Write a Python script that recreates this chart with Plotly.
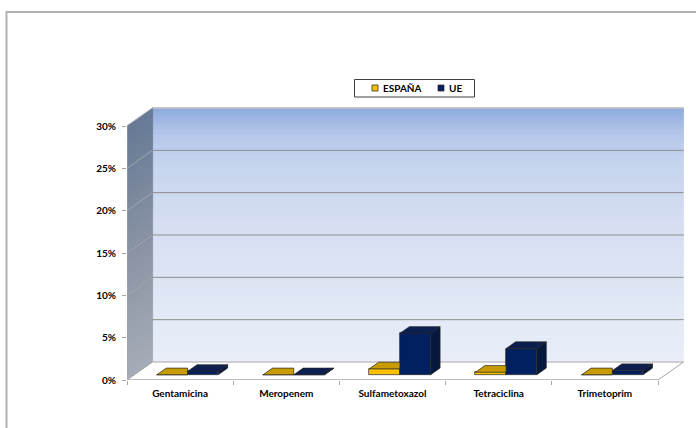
import plotly.graph_objects as go

# ---------------- data ----------------
categories = ["Gentamicina", "Meropenem", "Sulfametoxazol", "Tetraciclina", "Trimetoprim"]
espana = [0.0, 0.0, 0.7, 0.3, 0.0]
ue = [0.4, 0.0, 4.9, 3.1, 0.5]
y_ticks = [0, 5, 10, 15, 20, 25, 30]
y_tick_labels = ["0%", "5%", "10%", "15%", "20%", "25%", "30%"]
series_names = ["ESPAÑA", "UE"]

# ---------------- geometry (pixels -> data units) ----------------
W, H = 696, 428
L, R, T, B = 127, 684, 107, 380
CW = 106.2            # px per category
YP = 254.0 / 30.0     # px per percent
XMIN = -0.5
XMAX = XMIN + (R - L) / CW
YMAX = (B - T) / YP
DX = 25.6 / CW        # wall depth, x
DY = 18.0 / YP        # wall depth, y
F0 = 0.29             # bar front depth fraction
FD = 0.37             # bar depth fraction
BW = 0.289            # bar width (category units)
n = len(categories)
xpos = list(range(n))
x_lo, x_hi = -0.5, n - 0.5

FONT = "Lato"

def lerp_color(c1, c2, t):
    a = [int(c1[i:i + 2], 16) for i in (1, 3, 5)]
    b = [int(c2[i:i + 2], 16) for i in (1, 3, 5)]
    return "rgb(%d,%d,%d)" % tuple(round(a[i] + (b[i] - a[i]) * t) for i in range(3))

def scale_color(stops, t):
    for (p0, c0), (p1, c1) in zip(stops, stops[1:]):
        if t <= p1:
            return lerp_color(c0, c1, (t - p0) / (p1 - p0) if p1 > p0 else 0)
    return lerp_color(stops[-1][1], stops[-1][1], 0)

def px2paper_x(px):
    return (px - L) / (R - L)

def px2paper_y(py):
    return (B - py) / (B - T)

shapes = []
annotations = []
# outer frame
shapes.append(dict(type="rect", xref="paper", yref="paper",
                   x0=px2paper_x(6.5), x1=px2paper_x(705), y0=px2paper_y(12), y1=px2paper_y(440),
                   line=dict(color="#b3b3b3", width=2), fillcolor="rgba(0,0,0,0)", layer="below"))

# back wall gradient bands
back_stops = [(0.0, "#e9eef8"), (0.55, "#d5def2"), (0.8, "#c5d3ee"), (0.9, "#b4c6ea"), (1.0, "#8eaadc")]
NB = 70
top = y_ticks[-1]
for i in range(NB):
    v0 = top * i / NB
    v1 = top * (i + 1) / NB
    col = scale_color(back_stops, (i + 0.5) / NB)
    shapes.append(dict(type="rect", xref="x", yref="y", x0=x_lo + DX, x1=x_hi + DX,
                       y0=v0 + DY, y1=v1 + DY, line=dict(width=0.8, color=col), fillcolor=col, layer="below"))
# side wall gradient bands
side_stops = [(0.0, "#a5acb7"), (0.5, "#8892a3"), (1.0, "#657894")]
for i in range(NB):
    v0 = top * i / NB
    v1 = top * (i + 1) / NB
    col = scale_color(side_stops, (i + 0.5) / NB)
    path = "M %f,%f L %f,%f L %f,%f L %f,%f Z" % (x_lo, v0, x_lo + DX, v0 + DY, x_lo + DX, v1 + DY, x_lo, v1)
    shapes.append(dict(type="path", xref="x", yref="y", path=path, line=dict(width=0.8, color=col),
                       fillcolor=col, layer="below"))
# floor
floor = "M %f,0 L %f,0 L %f,%f L %f,%f Z" % (x_lo, x_hi, x_hi + DX, DY, x_lo + DX, DY)
shapes.append(dict(type="path", xref="x", yref="y", path=floor, fillcolor="white",
                   line=dict(color="#a6a6a6", width=1), layer="below"))
# gridlines (side wall diagonal + back wall)
for v in y_ticks[1:]:
    shapes.append(dict(type="line", xref="x", yref="y", x0=x_lo, y0=v, x1=x_lo + DX, y1=v + DY,
                       line=dict(color="#9ea4ae", width=1), layer="below"))
    shapes.append(dict(type="line", xref="x", yref="y", x0=x_lo + DX, y0=v + DY, x1=x_hi + DX, y1=v + DY,
                       line=dict(color="#8c8c8c", width=1), layer="below"))
shapes.append(dict(type="line", xref="x", yref="y", x0=x_lo + DX, y0=top + DY, x1=x_hi + DX, y1=top + DY,
                   line=dict(color="#d9d9d9", width=1), layer="below"))
# front axis lines
shapes.append(dict(type="line", xref="x", yref="y", x0=x_lo, y0=0, x1=x_lo, y1=top,
                   line=dict(color="#a6a6a6", width=1), layer="below"))
shapes.append(dict(type="line", xref="x", yref="y", x0=x_lo, y0=0, x1=x_hi, y1=0,
                   line=dict(color="#a6a6a6", width=1), layer="below"))

fig = go.Figure()

front_cols = ["#ffc000", "#002060"]
top_cols = ["#c89b00", "#0d1f4f"]
side_cols = ["#a57f00", "#07183e"]
edge = "#262626"

base = F0 * DY
ddx, ddy = FD * DX, FD * DY
series = [espana, ue]
lefts = []
for s, vals in enumerate(series):
    xs = [c + (s - 0.5) * BW + F0 * DX for c in xpos]
    lefts.append([x - BW / 2 for x in xs])
    fig.add_trace(go.Bar(x=xs, y=vals, base=[base] * n, width=BW, name=series_names[s],
                         marker=dict(color=front_cols[s], line=dict(color=edge, width=0.7)),
                         showlegend=False, hoverinfo="skip"))

# top + side faces
for s, vals in enumerate(series):
    tx, ty, sx, sy = [], [], [], []
    for i, v in enumerate(vals):
        xl = lefts[s][i]
        xr = xl + BW
        t = base + v
        nxt = series[s + 1][i] if s + 1 < len(series) else None
        if nxt is not None and nxt >= v:
            tx += [xl, xr, xr, xl + ddx, xl, None]
            ty += [t, t, t + ddy, t + ddy, t, None]
        else:
            tx += [xl, xr, xr + ddx, xl + ddx, xl, None]
            ty += [t, t, t + ddy, t + ddy, t, None]
            sx += [xr, xr + ddx, xr + ddx, xr, xr, None]
            sy += [base, base + ddy, t + ddy, t, base, None]
    fig.add_trace(go.Scatter(x=tx, y=ty, mode="lines", fill="toself", fillcolor=top_cols[s],
                             line=dict(color=edge, width=0.7), showlegend=False, hoverinfo="skip"))
    if sx:
        fig.add_trace(go.Scatter(x=sx, y=sy, mode="lines", fill="toself", fillcolor=side_cols[s],
                                 line=dict(color=edge, width=0.7), showlegend=False, hoverinfo="skip"))

# legend (box, swatches, labels)
shapes.append(dict(type="rect", xref="paper", yref="paper",
                   x0=px2paper_x(354.5), x1=px2paper_x(474.5), y0=px2paper_y(97), y1=px2paper_y(79.5),
                   line=dict(color="#404040", width=1), fillcolor="white", layer="above"))
leg_swatch_x = [372, 438]
leg_text_x = [381, 447]
for s in range(2):
    shapes.append(dict(type="rect", xref="paper", yref="paper",
                       x0=px2paper_x(leg_swatch_x[s]), x1=px2paper_x(leg_swatch_x[s] + 6),
                       y0=px2paper_y(91), y1=px2paper_y(85),
                       line=dict(color="#333333", width=0.8), fillcolor=front_cols[s], layer="above"))
    annotations.append(dict(xref="paper", yref="paper", x=px2paper_x(leg_text_x[s]), y=px2paper_y(88.3),
                            xanchor="left", yanchor="middle", showarrow=False, text=series_names[s],
                            font=dict(family=FONT, size=10, weight="bold", color="#000000")))

fig.update_layout(
    width=W, height=H,
    margin=dict(l=L, r=W - R, t=T, b=H - B, pad=0),
    paper_bgcolor="white", plot_bgcolor="rgba(0,0,0,0)",
    font=dict(family=FONT, size=10, color="#000000", weight="bold"),
    shapes=shapes, annotations=annotations,
    showlegend=False,
    bargap=0, barmode="overlay",
    xaxis=dict(range=[XMIN, XMAX], showgrid=False, zeroline=False, showline=False,
               tickmode="array", tickvals=xpos, ticktext=categories, ticks="",
               ticklabelstandoff=6,
               tickfont=dict(family=FONT, size=10, weight="bold"),
               minor=dict(tickmode="array", tickvals=[c - 0.5 for c in xpos] + [xpos[-1] + 0.5],
                          ticks="outside", ticklen=4, tickcolor="#a6a6a6", showgrid=False),
               fixedrange=True),
    yaxis=dict(range=[0, YMAX], showgrid=False, zeroline=False, showline=False,
               tickmode="array", tickvals=y_ticks, ticktext=y_tick_labels,
               ticks="outside", ticklen=4, tickcolor="#a6a6a6", ticklabelstandoff=4,
               tickfont=dict(family=FONT, size=10, weight="bold"),
               fixedrange=True),
)

fig.write_html("out.html")
